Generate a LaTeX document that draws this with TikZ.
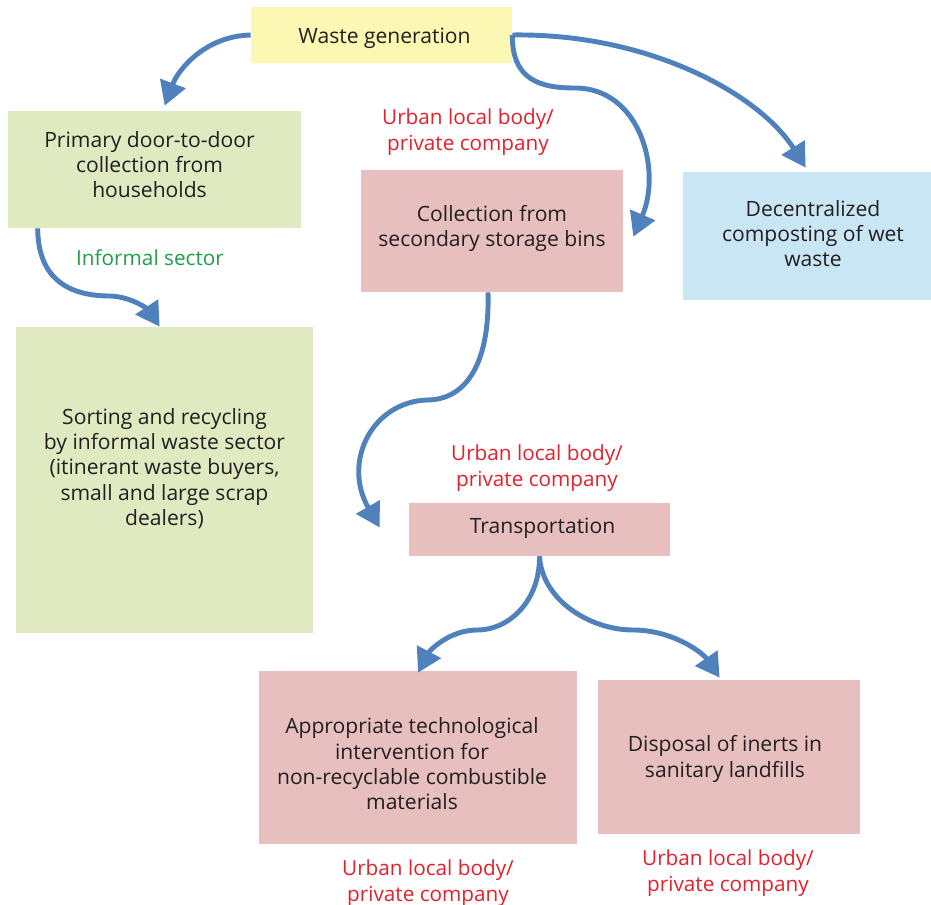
\documentclass[tikz,border=0pt]{standalone}
\usepackage{fontspec}
\setmainfont{Open Sans}
\usetikzlibrary{arrows.meta,calc}
\definecolor{wyellow}{HTML}{FCF7B2}
\definecolor{wgreen}{HTML}{DFEAC1}
\definecolor{wpink}{HTML}{E8BFBF}
\definecolor{wblue}{HTML}{C9E6F5}
\definecolor{warrow}{HTML}{4F81BD}
\definecolor{wred}{HTML}{E3202B}
\definecolor{wtxtgreen}{HTML}{1F9E4A}
\definecolor{wtext}{HTML}{231F20}
\tikzset{
  box/.style={inner sep=0pt},
  ybox/.style={box,fill=wyellow},
  gbox/.style={box,fill=wgreen},
  pbox/.style={box,fill=wpink},
  bbox/.style={box,fill=wblue},
  txt/.style={align=center,text=wtext,font=\fontsize{12}{14.4}\selectfont},
  arr/.style={-{Triangle[length=13.5pt,width=15pt]},line width=2.8pt,draw=warrow},
  ulb/.style={align=center,text=wred,font=\fontsize{11.8}{14.4}\selectfont},
  inf/.style={text=wtxtgreen,font=\fontsize{11.8}{14.4}\selectfont},
}
\begin{document}
\begin{tikzpicture}[x=0.02cm,y=-0.02cm]
  \useasboundingbox (0,0) rectangle (931,905);
  % boxes
  \node[ybox,minimum width=5.22cm,minimum height=1.12cm] (wg) at (381.5,35) {};
  \node[gbox,minimum width=5.86cm,minimum height=2.34cm] (pd) at (154.5,169.5) {};
  \node[gbox,minimum width=5.94cm,minimum height=6.12cm] (sr) at (164.5,480) {};
  \node[pbox,minimum width=5.24cm,minimum height=2.44cm] (cs) at (492,231) {};
  \node[bbox,minimum width=4.96cm,minimum height=2.56cm] (dc) at (807,236) {};
  \node[pbox,minimum width=5.22cm,minimum height=1.06cm] (tr) at (539.5,529.5) {};
  \node[pbox,minimum width=6.36cm,minimum height=3.46cm] (at) at (418,757.5) {};
  \node[pbox,minimum width=5.24cm,minimum height=3.08cm] (di) at (729,757) {};
  % box texts
  \node[txt] (wg-t) at ($(wg)+(3,3)$) {Waste generation};
  \node[txt] (pd-t) at ($(pd)+(-5,-5)$) {Primary door-to-door\\collection from\\households};
  \node[txt] (sr-t) at ($(sr)+(0,-11.5)$) {Sorting and recycling\\by informal waste sector\\(itinerant waste buyers,\\small and large scrap\\dealers)};
  \node[txt] (cs-t) at ($(cs)+(0,-2.5)$) {Collection from\\secondary storage bins};
  \node[txt] (dc-t) at ($(dc)+(6,-2.5)$) {Decentralized\\composting of wet\\waste};
  \node[txt] (tr-t) at ($(tr)+(3,-1)$) {Transportation};
  \node[txt] (at-t) at ($(at)+(-6,6.5)$) {Appropriate technological\\intervention for\\non-recyclable combustible\\materials};
  \node[txt] (di-t) at ($(di)+(-4,2)$) {Disposal of inerts in\\sanitary landfills};
  % labels
  \node[ulb] (u1) at (468,132) {Urban local body/\\private company};
  \node[inf] (is) at (150,258) {Informal sector};
  \node[ulb] (u2) at (537,468) {Urban local body/\\private company};
  \node[ulb] (u3) at (428,883) {Urban local body/\\private company};
  \node[ulb] (u4) at (728,873) {Urban local body/\\private company};
  % connectors
  \coordinate (t1) at ($(pd.north west)+(157,-5)$);
  \coordinate (t2) at ($(cs.north east)+(10,67)$);
  \coordinate (t3) at ($(dc.north west)+(123,-4)$);
  \coordinate (t4) at ($(sr.north west)+(144,0)$);
  \coordinate (t5) at ($(tr.west)+(-29,-2)$);
  \coordinate (t6) at ($(at.north)+(0,2)$);
  \coordinate (t7) at ($(di.north west)+(122,-2)$);
  \draw[arr] (wg.west) .. controls (205,36) and (178,70) .. (t1);
  \draw[arr] (wg.east) .. controls (512,80) and (540,88) .. (575,88) .. controls (640,88) and (662,170) .. (t2);
  \draw[arr] (wg.east) .. controls (650,33) and (760,95) .. (t3);
  \draw[arr] (pd.south west) ++(30,0) .. controls (38,280) and (70,296) .. (110,296) .. controls (135,297) and (150,312) .. (t4);
  \draw[arr] (cs.south) ++(-4,0) .. controls (490,370) and (462,400) .. (427,400) .. controls (372,402) and (342,462) .. (t5);
  \draw[arr] (tr.south) .. controls (540,600) and (510,630) .. (477,630) .. controls (450,630) and (430,650) .. (t6);
  \draw[arr] (tr.south) .. controls (542,600) and (590,630) .. (633,630) .. controls (672,630) and (702,652) .. (t7);
\end{tikzpicture}
\end{document}
